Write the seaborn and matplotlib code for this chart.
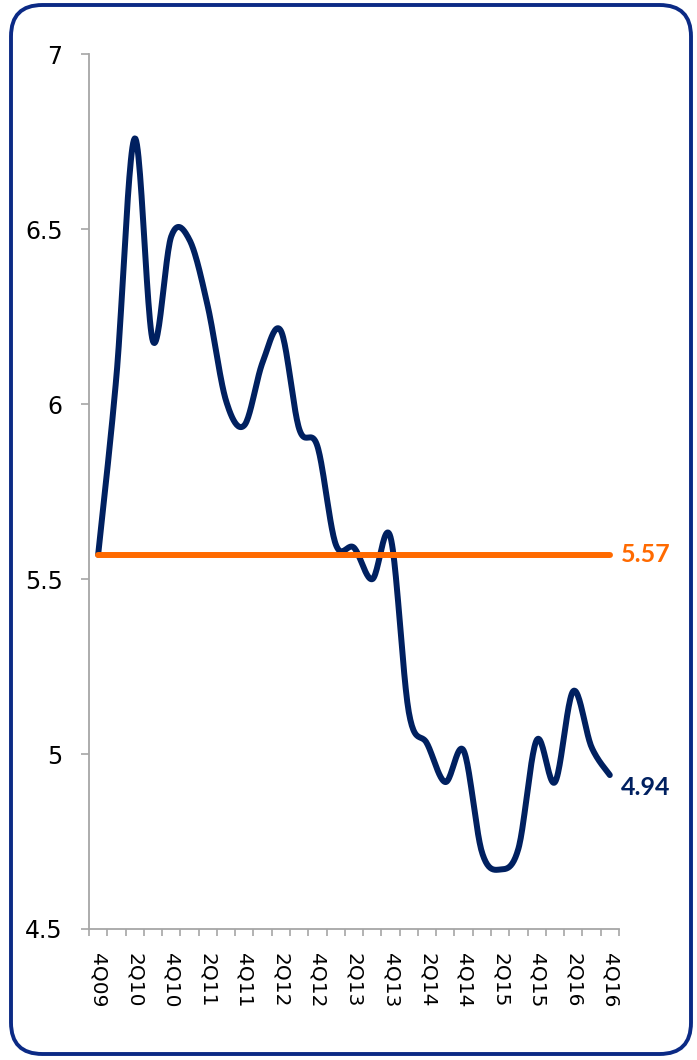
import numpy as np
import seaborn as sns
from matplotlib import pyplot as plt
from matplotlib.patches import FancyBboxPatch


quarters = ['4Q09', '1Q10', '2Q10', '3Q10', '4Q10', '1Q11', '2Q11', '3Q11', '4Q11',
            '1Q12', '2Q12', '3Q12', '4Q12', '1Q13', '2Q13', '3Q13', '4Q13',
            '1Q14', '2Q14', '3Q14', '4Q14', '1Q15', '2Q15', '3Q15', '4Q15',
            '1Q16', '2Q16', '3Q16', '4Q16']
values = [5.57, 6.08, 6.76, 6.18, 6.48, 6.47, 6.28, 6.01, 5.94,
          6.12, 6.21, 5.93, 5.88, 5.60, 5.59, 5.50, 5.62,
          5.12, 5.03, 4.92, 5.01, 4.72, 4.67, 4.73, 5.04,
          4.92, 5.18, 5.02, 4.94]
average = 5.57
y_ticks = [4.5, 5, 5.5, 6, 6.5, 7]
y_labels = ['4.5', '5', '5.5', '6', '6.5', '7']

navy = '#002060'
orange = '#FF6A00'
grey = '#A6A6A6'


# smoothed line like Excel (catmull-rom through every point)
def smooth(xs, ys, n=24):
    px = np.concatenate([[xs[0]], xs, [xs[-1]]])
    py = np.concatenate([[ys[0]], ys, [ys[-1]]])
    t = np.linspace(0, 1, n, endpoint=False)
    out_x, out_y = [], []
    for i in range(1, len(px) - 2):
        for p, out in ((px, out_x), (py, out_y)):
            p0, p1, p2, p3 = p[i - 1], p[i], p[i + 1], p[i + 2]
            out.extend(0.5 * (2 * p1 + (-p0 + p2) * t + (2 * p0 - 5 * p1 + 4 * p2 - p3) * t ** 2
                              + (-p0 + 3 * p1 - 3 * p2 + p3) * t ** 3))
    out_x.append(xs[-1])
    out_y.append(ys[-1])
    return np.array(out_x), np.array(out_y)


sns.set_style("white")
plt.rcParams['font.family'] = ['DejaVu Sans']

fig = plt.figure(figsize=(6.97, 10.6), dpi=100)
ax = fig.add_axes([0.1277, 0.1236, 0.7603, 0.825])

xi = np.arange(len(quarters), dtype=float)
sx, sy = smooth(xi, np.array(values))
sns.lineplot(x=sx, y=sy, sort=False, estimator=None, color=navy, lw=4.3, ax=ax)
sns.lineplot(x=[xi[0], xi[-1]], y=[average, average], color=orange, lw=4.3, ax=ax)

ax.set_xlim(-0.5, len(quarters) - 0.5)
ax.set_ylim(4.5, 7)

ax.set_yticks(y_ticks)
ax.set_yticklabels(y_labels, fontsize=17, color='black')
ax.set_xticks(xi[::2])
ax.set_xticklabels(quarters[::2], rotation=270, fontsize=14.5, va='top', color='black')
ax.set_xticks(np.arange(-0.5, len(quarters), 1), minor=True)

ax.tick_params(axis='y', direction='out', length=6, width=1.2, color=grey, pad=13, left=True)
ax.tick_params(axis='x', which='major', length=0, pad=17, bottom=True)
ax.tick_params(axis='x', which='minor', direction='out', length=5, width=1.2, color=grey, bottom=True)

for s in ['top', 'right']:
    ax.spines[s].set_visible(False)
for s in ['left', 'bottom']:
    ax.spines[s].set_color(grey)
    ax.spines[s].set_linewidth(1.3)

ax.text(len(quarters) - 0.5 + 0.1, average, '5.57', color=orange, fontsize=18,
        fontweight='bold', family='Lato', va='center', ha='left')
ax.text(len(quarters) - 0.5 + 0.1, values[-1] - 0.035, '4.94', color=navy, fontsize=18,
        fontweight='bold', family='Lato', va='center', ha='left')

# rounded frame round the whole picture
frame = FancyBboxPatch((11 / 697, 6 / 1060), 680 / 697, 1049 / 1060,
                       boxstyle="round,pad=0,rounding_size=0.045",
                       transform=fig.transFigure, fill=False, ec='#0B2A85', lw=2.8,
                       mutation_aspect=697 / 1060)
fig.patches.append(frame)

fig.savefig("out.png", dpi=100)
